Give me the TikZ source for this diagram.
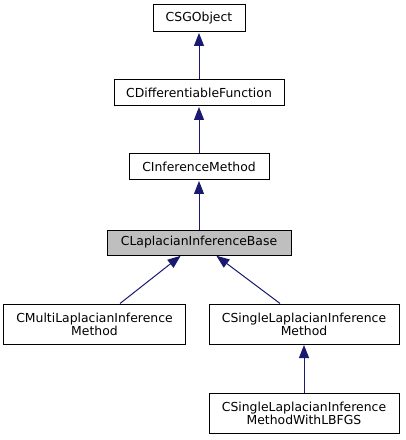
\documentclass[tikz,border=0pt]{standalone}
\usepackage{fontspec}
\setmainfont{DejaVu Sans}
\usetikzlibrary{arrows.meta,calc}
\definecolor{edgeblue}{HTML}{191970}
\definecolor{hilite}{HTML}{BFBFBF}
\tikzset{
  box/.style={draw=black, line width=1bp, fill=white, inner sep=0pt, align=center,
    font=\fontsize{12.4bp}{13bp}\selectfont},
  inherit/.style={draw=edgeblue, line width=1bp, -{Triangle[length=13bp,width=10bp]}, shorten >=0.5bp}
}
\begin{document}
\begin{tikzpicture}[x=1bp,y=-1bp]
\useasboundingbox (0,0) rectangle (405,440);
\node[box, minimum width=92bp, minimum height=27bp] (obj) at (199,18.5) {CSGObject};
\node[box, minimum width=170bp, minimum height=26bp] (diff) at (199,93) {CDifferentiableFunction};
\node[box, minimum width=140bp, minimum height=26bp] (inf) at (199,167) {CInferenceMethod};
\node[box, fill=hilite, minimum width=184bp, minimum height=25bp] (lap) at (199,242.5) {CLaplacianInferenceBase};
\node[box, minimum width=181bp, minimum height=40bp] (multi) at (94.5,324) {CMultiLaplacianInference\\Method};
\node[box, minimum width=190bp, minimum height=40bp] (single) at (304,324) {CSingleLaplacianInference\\Method};
\node[box, minimum width=190bp, minimum height=40bp] (lbfgs) at (304,413) {CSingleLaplacianInference\\MethodWithLBFGS};
\draw[inherit] (diff.north) -- (obj.south);
\draw[inherit] (inf.north) -- (diff.south);
\draw[inherit] (lap.north) -- (inf.south);
\draw[inherit] ([xshift=25.5bp]multi.north) -- ([xshift=-18bp]lap.south);
\draw[inherit] ([xshift=-24bp]single.north) -- ([xshift=17bp]lap.south);
\draw[inherit] (lbfgs.north) -- (single.south);
\end{tikzpicture}
\end{document}
